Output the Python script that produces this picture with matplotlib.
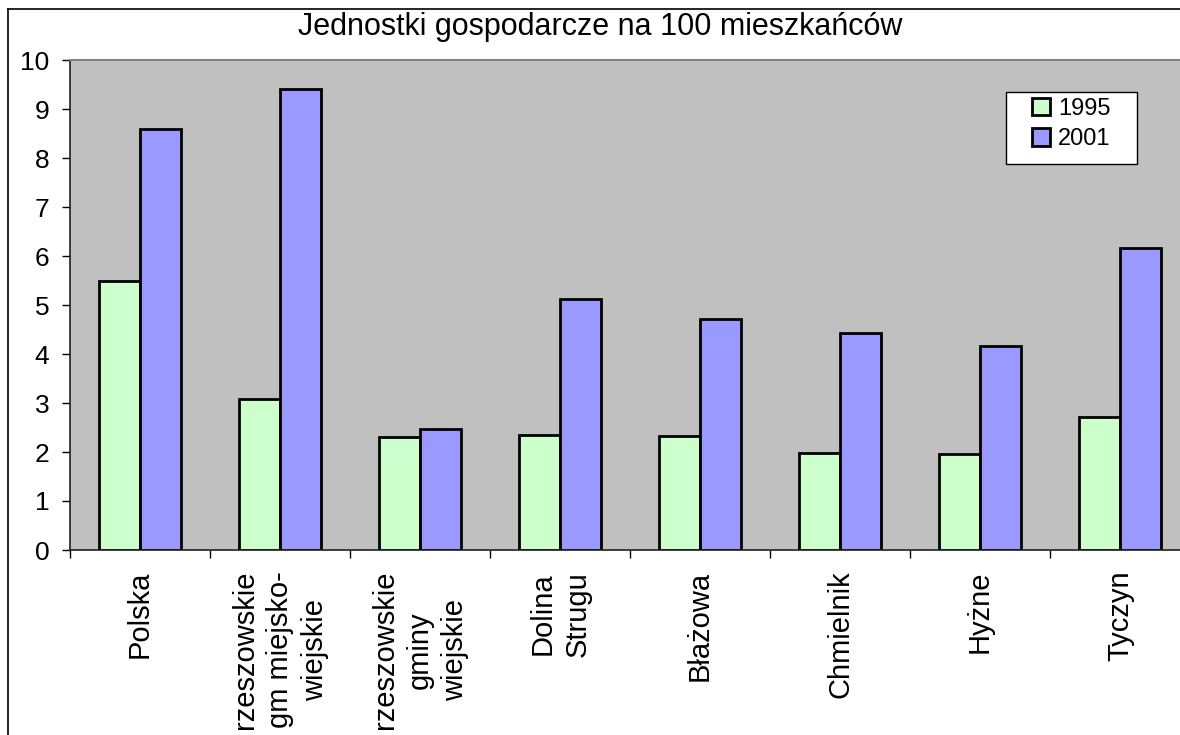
import matplotlib
matplotlib.use('Agg')
import matplotlib.pyplot as plt
import numpy as np
from matplotlib.lines import Line2D
from matplotlib.patches import Rectangle

plt.rcParams['font.family'] = ['Liberation Sans', 'DejaVu Sans']

# data
categories = ['Polska',
              'rzeszowskie\ngm miejsko-\nwiejskie',
              'rzeszowskie\ngminy\nwiejskie',
              'Dolina\nStrugu',
              'Błażowa',
              'Chmielnik',
              'Hyżne',
              'Tyczyn']
vals_1995 = [5.48, 3.08, 2.31, 2.35, 2.33, 1.97, 1.96, 2.72]
vals_2001 = [8.59, 9.40, 2.47, 5.12, 4.71, 4.43, 4.16, 6.17]
series_labels = ['1995', '2001']
title = 'Jednostki gospodarcze na 100 mieszkańców'

W, H = 1180, 735
fig = plt.figure(figsize=(W / 100, H / 100), dpi=100)
fig.patch.set_facecolor('white')

# plot area runs a little past the right edge, like the cropped original
ax = fig.add_axes([70 / W, 1 - 550 / H, 1120 / W, 490 / H])
ax.set_facecolor('#C0C0C0')

x = np.arange(len(categories))
bw = 0.29
b1 = ax.bar(x - bw / 2, vals_1995, bw, color='#CCFFCC', edgecolor='black', linewidth=2)
b2 = ax.bar(x + bw / 2, vals_2001, bw, color='#9999FF', edgecolor='black', linewidth=2)

ax.set_xlim(-0.5, len(categories) - 0.5)
ax.set_ylim(0, 10)
ax.set_yticks(range(0, 11))
ax.tick_params(axis='y', direction='out', length=6, width=1, pad=9, labelsize=19)

ax.set_xticks(x)
ax.set_xticklabels(categories, rotation=90, fontsize=21)
ax.set_xticks(np.arange(-0.5, len(categories)), minor=True)
ax.tick_params(axis='x', which='major', length=0, pad=15)
ax.tick_params(axis='x', which='minor', direction='out', length=6, width=1)
for lab in ax.get_xticklabels():
    lab.set_linespacing(1.3)
    lab.set_multialignment('center')

for s in ['left', 'bottom']:
    ax.spines[s].set_color('#202020')
    ax.spines[s].set_linewidth(1.2)
ax.spines['top'].set_color('#808080')
ax.spines['top'].set_linewidth(1.5)
ax.spines['right'].set_visible(False)

fig.text(600 / W, 1 - 35 / H, title, ha='center', va='baseline', fontsize=22)

# legend box
fig.add_artist(Rectangle((1006 / W, 1 - 164 / H), 131 / W, 72 / H,
                         transform=fig.transFigure, facecolor='white',
                         edgecolor='black', linewidth=1, zorder=1))
fig.legend([b1, b2], series_labels, loc='upper left',
           bbox_to_anchor=(1032 / W, 1 - 98 / H), bbox_transform=fig.transFigure,
           frameon=False, borderpad=0, borderaxespad=0, fontsize=17,
           handlelength=0.76, handleheight=0.76, handletextpad=0.35,
           labelspacing=0.34)

# chart area border (left and top visible)
fig.add_artist(Line2D([8 / W, 8 / W], [0, 1 - 9 / H], color='black', linewidth=1.2,
                      transform=fig.transFigure))
fig.add_artist(Line2D([8 / W, 1], [1 - 9 / H, 1 - 9 / H], color='black', linewidth=1.2,
                      transform=fig.transFigure))

fig.savefig('out.png', dpi=100)
